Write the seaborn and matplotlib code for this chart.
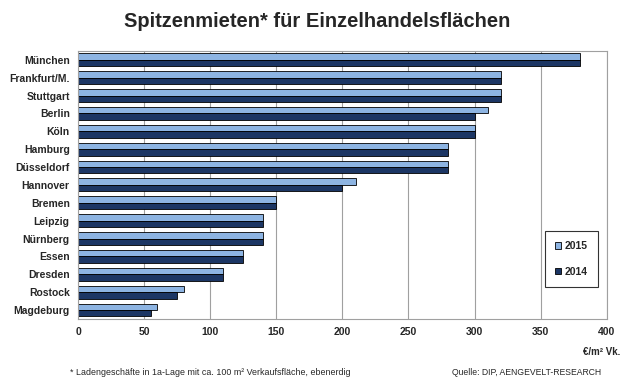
import pandas as pd
import matplotlib.pyplot as plt
import seaborn as sns
import numpy as np

# Daten
staedte = ['München', 'Frankfurt/M.', 'Stuttgart', 'Berlin', 'Köln', 'Hamburg', 'Düsseldorf',
           'Hannover', 'Bremen', 'Leipzig', 'Nürnberg', 'Essen', 'Dresden', 'Rostock', 'Magdeburg']
miete_2015 = [380, 320, 320, 310, 300, 280, 280, 210, 150, 140, 140, 125, 110, 80, 60]
miete_2014 = [380, 320, 320, 300, 300, 280, 280, 200, 150, 140, 140, 125, 110, 75, 55]
jahre = ['2015', '2014']

df = pd.DataFrame({
    'Stadt': staedte * 2,
    'Miete': miete_2015 + miete_2014,
    'Jahr': ['2015'] * len(staedte) + ['2014'] * len(staedte),
})

sns.set_style('white')
plt.rcParams['font.family'] = ['Liberation Sans', 'DejaVu Sans']

fig = plt.figure(figsize=(6.4, 3.88), dpi=100)
ax = fig.add_axes([0.122, 0.178, 0.826, 0.691])

farben = {'2015': '#8db4e2', '2014': '#1c3664'}
sns.barplot(data=df, x='Miete', y='Stadt', hue='Jahr', hue_order=jahre, order=staedte,
            palette=farben, orient='h', width=0.72, edgecolor='black', linewidth=0.6,
            saturation=1, ax=ax)

ax.set_xlim(0, 400)
ax.set_xticks(range(0, 401, 50))
ax.set_xlabel('')
ax.set_ylabel('')
ax.xaxis.grid(True, color='#a0a0a0', linewidth=0.8)
ax.set_axisbelow(True)
for s in ax.spines.values():
    s.set_color('#a0a0a0')
    s.set_linewidth(0.8)
ax.tick_params(axis='y', length=0, pad=6)
ax.tick_params(axis='x', length=0, pad=6)
ax.set_yticks(np.arange(-0.5, len(staedte), 1), minor=True)
ax.tick_params(axis='y', which='minor', length=3, color='#a0a0a0')
for lbl in ax.get_yticklabels() + ax.get_xticklabels():
    lbl.set_fontweight('bold')
    lbl.set_fontsize(7.5)

leg = ax.legend(loc='lower right', bbox_to_anchor=(0.983, 0.119), borderaxespad=0,
                frameon=True, fancybox=False, edgecolor='black', handlelength=0.6,
                handleheight=0.6, handletextpad=0.3, labelspacing=1.5, borderpad=1.0,
                prop={'weight': 'bold', 'size': 7.5})
leg.get_frame().set_linewidth(0.8)

fig.text(0.495, 0.945, 'Spitzenmieten* für Einzelhandelsflächen', ha='center', va='center',
         fontsize=14.5, fontweight='bold')
fig.text(0.97, 0.092, '€/m² Vk.', ha='right', va='center', fontsize=7, fontweight='bold')
fig.text(0.11, 0.04, '* Ladengeschäfte in 1a-Lage mit ca. 100 m² Verkaufsfläche, ebenerdig',
         ha='left', va='center', fontsize=6.4)
fig.text(0.94, 0.04, 'Quelle: DIP, AENGEVELT-RESEARCH', ha='right', va='center', fontsize=6.2)

fig.savefig('out.png', dpi=100)
